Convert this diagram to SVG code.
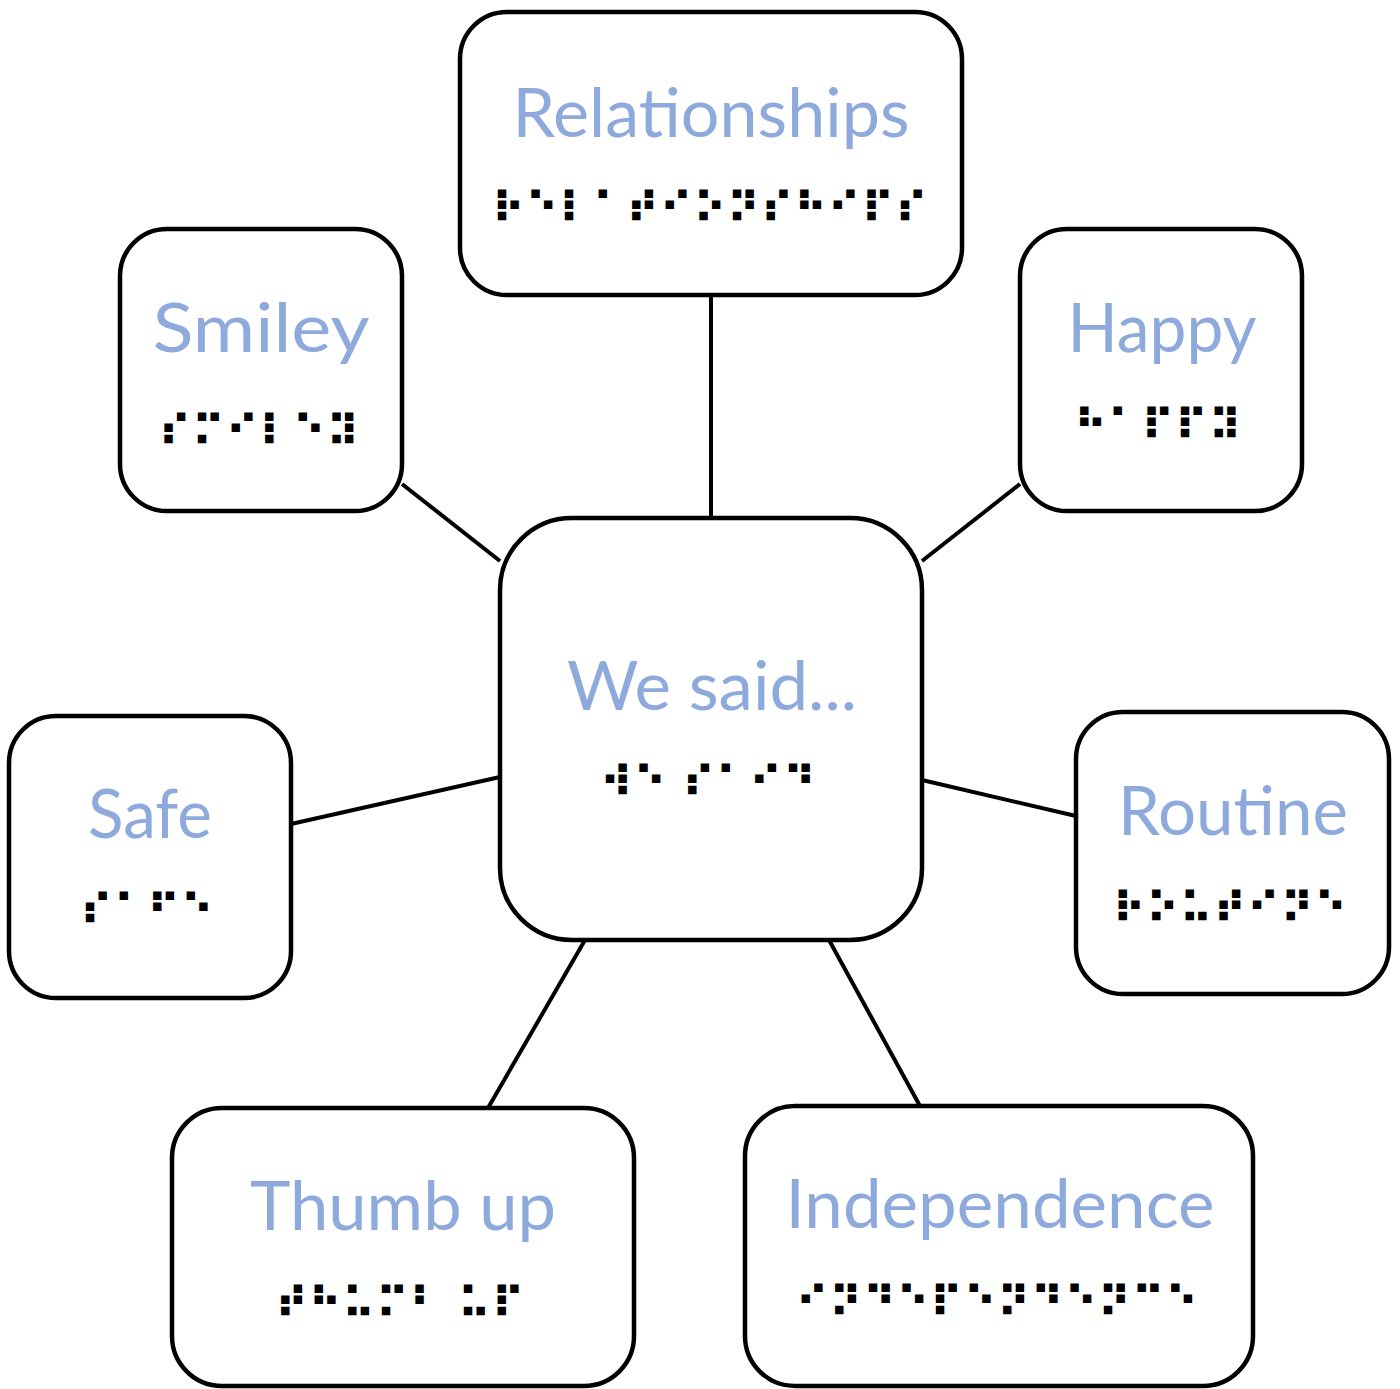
<svg xmlns="http://www.w3.org/2000/svg" width="1400" height="1389" viewBox="0 0 1400 1389">
<style>
.box{fill:#fff;stroke:#000;stroke-width:4.5}
.lbl{font-family:Lato,"Open Sans","Liberation Sans",sans-serif;font-size:68px;fill:#8EA9DB;text-anchor:middle}
.br{font-family:"DejaVu Sans",sans-serif;font-size:43px;font-weight:bold;fill:#000;text-anchor:middle}
.con{stroke:#000;stroke-width:4;fill:none}
</style>
<rect width="1400" height="1389" fill="#fff"/>
<g id="connectors">
<line class="con" x1="711" y1="295" x2="711" y2="518"/>
<line class="con" x1="402" y1="484" x2="500" y2="561"/>
<line class="con" x1="1020" y1="484" x2="922" y2="561"/>
<line class="con" x1="291" y1="824" x2="500" y2="777"/>
<line class="con" x1="922" y1="780" x2="1076" y2="816"/>
<line class="con" x1="585" y1="940" x2="488" y2="1108"/>
<line class="con" x1="829" y1="940" x2="920" y2="1106"/>
</g>
<g id="relationships">
<rect class="box" x="460" y="12" width="502" height="283" rx="47"/>
<text class="lbl" x="711" y="137" textLength="397" lengthAdjust="spacingAndGlyphs">Relationships</text>
<text class="br" x="710" y="223">⠗⠑⠇⠁⠞⠊⠕⠝⠎⠓⠊⠏⠎</text>
</g>
<g id="smiley">
<rect class="box" x="120" y="229" width="282" height="282" rx="47"/>
<text class="lbl" x="261" y="352" textLength="217" lengthAdjust="spacingAndGlyphs">Smiley</text>
<text class="br" x="259" y="446">⠎⠍⠊⠇⠑⠽</text>
</g>
<g id="happy">
<rect class="box" x="1020" y="229" width="282" height="282" rx="47"/>
<text class="lbl" x="1162" y="352" textLength="189" lengthAdjust="spacingAndGlyphs">Happy</text>
<text class="br" x="1158" y="440">⠓⠁⠏⠏⠽</text>
</g>
<g id="center">
<rect class="box" x="500" y="518" width="422" height="422" rx="72"/>
<text class="lbl" x="712" y="710" textLength="290" lengthAdjust="spacingAndGlyphs">We said...</text>
<text class="br" x="708" y="797">⠺⠑ ⠎⠁⠊⠙</text>
</g>
<g id="safe">
<rect class="box" x="9" y="716" width="282" height="282" rx="47"/>
<text class="lbl" x="150" y="838" textLength="124" lengthAdjust="spacingAndGlyphs">Safe</text>
<text class="br" x="147" y="925">⠎⠁⠋⠑</text>
</g>
<g id="routine">
<rect class="box" x="1076" y="712" width="313" height="282" rx="47"/>
<text class="lbl" x="1233" y="835" textLength="230" lengthAdjust="spacingAndGlyphs">Routine</text>
<text class="br" x="1230" y="923">⠗⠕⠥⠞⠊⠝⠑</text>
</g>
<g id="thumb-up">
<rect class="box" x="172" y="1108" width="462" height="278" rx="50"/>
<text class="lbl" x="403" y="1230" textLength="306" lengthAdjust="spacingAndGlyphs">Thumb up</text>
<text class="br" x="400" y="1318">⠞⠓⠥⠍⠃ ⠥⠏</text>
</g>
<g id="independence">
<rect class="box" x="745" y="1106" width="508" height="280" rx="50"/>
<text class="lbl" x="1000" y="1228" textLength="429" lengthAdjust="spacingAndGlyphs">Independence</text>
<text class="br" x="997" y="1317">⠊⠝⠙⠑⠏⠑⠝⠙⠑⠝⠉⠑</text>
</g>
</svg>
